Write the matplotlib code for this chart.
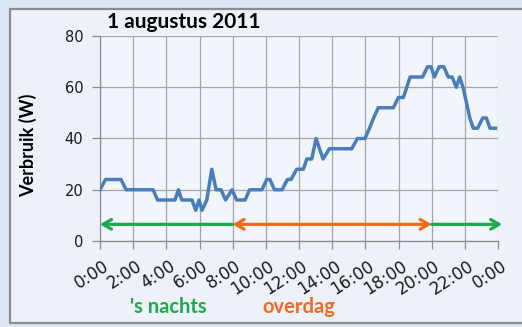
import matplotlib
matplotlib.use("Agg")
import matplotlib.pyplot as plt
from matplotlib.patches import Rectangle
from matplotlib.transforms import ScaledTranslation

# Stroomverbruik op 1 augustus 2011 (knikpunten van de meetreeks)
tijd_uur = [0.0, 0.33, 1.27, 1.57, 3.2, 3.47, 4.52, 4.73, 4.93, 5.55, 5.77, 5.97,
            6.15, 6.44, 6.74, 7.0, 7.3, 7.57, 7.96, 8.24, 8.75, 9.02, 9.77, 10.05,
            10.25, 10.52, 10.98, 11.3, 11.52, 11.86, 12.26, 12.47, 12.77, 13.03,
            13.45, 13.83, 15.18, 15.52, 15.98, 16.25, 16.5, 16.78, 17.69, 17.99,
            18.29, 18.5, 18.7, 19.45, 19.75, 19.96, 20.17, 20.45, 20.73, 21.0,
            21.23, 21.49, 21.69, 21.89, 22.1, 22.3, 22.51, 22.77, 23.08, 23.3,
            23.52, 23.85]
verbruik_w = [20, 24, 24, 20, 20, 16, 16, 20, 16, 16, 12, 16,
              12, 16, 28, 20, 20, 16, 20, 16, 16, 20, 20, 24,
              24, 20, 20, 24, 24, 28, 28, 32, 32, 40,
              32, 36, 36, 40, 40, 44, 48, 52, 52, 56,
              56, 60, 64, 64, 68, 68, 64, 68, 68, 64,
              64, 60, 64, 60, 54, 48, 44, 44, 48, 48,
              44, 44]

x_ticks = list(range(0, 25, 2))
x_labels = ["0:00", "2:00", "4:00", "6:00", "8:00", "10:00", "12:00",
            "14:00", "16:00", "18:00", "20:00", "22:00", "0:00"]
y_ticks = [0, 20, 40, 60, 80]

# grenzen van nacht en dag (uren)
nacht_begin, dag_begin, dag_eind, nacht_eind = 0, 8, 20, 24.25
pijl_hoogte = 6.5

W, H = 522, 327
fig = plt.figure(figsize=(W / 100, H / 100), dpi=100)
fig.patch.set_facecolor("#dce6f5")

# kaderpaneel achter de grafiek
fig.patches.append(Rectangle((10 / W, 4 / H), 1.2, 1 - 13 / H,
                             transform=fig.transFigure, facecolor="#edf2fa",
                             edgecolor="#8c8c8c", linewidth=1.6, zorder=-10))

ax = fig.add_axes([100 / W, 1 - 241 / H, 398 / W, 205 / H])
ax.set_facecolor("#f1f5fc")

ax.plot(tijd_uur, verbruik_w, color="#4a7ebb", linewidth=2.5,
        solid_joinstyle="round", zorder=3)

ax.set_xlim(0, 24)
ax.set_ylim(0, 80)
ax.set_xticks(x_ticks)
ax.set_xticklabels(x_labels, rotation=33, ha="right", va="center",
                   rotation_mode="anchor", fontsize=12,
                   fontfamily="DejaVu Sans", color="#1a1a1a")
ax.set_yticks(y_ticks)
ax.set_yticklabels([str(v) for v in y_ticks], fontsize=10.5,
                   fontfamily="DejaVu Sans", color="#1a1a1a")
ax.tick_params(axis="both", length=6, color="#8c8c8c", width=0.9)
ax.tick_params(axis="x", pad=0)
ax.tick_params(axis="y", pad=6)

# schuine tijdlabels iets naar rechtsonder
verschuiving = ScaledTranslation(7 / 100, -15 / 100, fig.dpi_scale_trans)
for lab in ax.get_xticklabels():
    lab.set_transform(lab.get_transform() + verschuiving)

ax.grid(True, color="#a6a6a6", linewidth=0.9)
ax.set_axisbelow(True)
for side in ("top", "right"):
    ax.spines[side].set_visible(False)
for side in ("left", "bottom"):
    ax.spines[side].set_color("#8c8c8c")
    ax.spines[side].set_linewidth(0.9)

groen = "#1daa4c"
oranje = "#f26a1e"
kop = "->,head_length=0.6,head_width=0.35"
ax.annotate("", xy=(nacht_begin, pijl_hoogte), xytext=(dag_begin, pijl_hoogte),
            arrowprops=dict(arrowstyle=kop, color=groen, lw=2.3,
                            shrinkA=0, shrinkB=0), annotation_clip=False)
ax.annotate("", xy=(dag_eind, pijl_hoogte), xytext=(dag_begin, pijl_hoogte),
            arrowprops=dict(arrowstyle="<->,head_length=0.6,head_width=0.35",
                            color=oranje, lw=2.3, shrinkA=0, shrinkB=0),
            annotation_clip=False)
ax.annotate("", xy=(nacht_eind, pijl_hoogte), xytext=(dag_eind, pijl_hoogte),
            arrowprops=dict(arrowstyle=kop, color=groen, lw=2.3,
                            shrinkA=0, shrinkB=0), annotation_clip=False)

fig.text(107 / W, 1 - 22 / H, "1 augustus 2011", fontsize=15,
         fontweight="bold", fontfamily="Lato", ha="left", va="center")
fig.text(28 / W, 1 - 145 / H, "Verbruik (W)", fontsize=13, fontweight="bold",
         fontfamily="Lato", rotation=90, ha="center", va="center")
fig.text(130 / W, 1 - 307 / H, "'s nachts", fontsize=14.5, fontweight="bold",
         fontfamily="Lato", color=groen, ha="left", va="center")
fig.text(262 / W, 1 - 307 / H, "overdag", fontsize=14.5, fontweight="bold",
         fontfamily="Lato", color=oranje, ha="left", va="center")

fig.savefig("out.png", dpi=100, facecolor=fig.get_facecolor())
